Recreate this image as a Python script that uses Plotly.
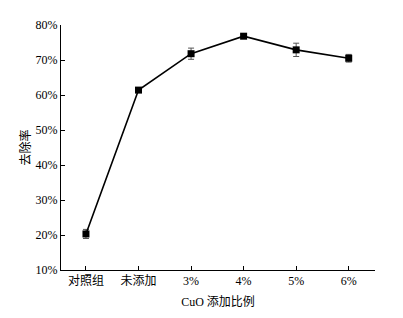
import plotly.graph_objects as go

categories = ["对照组", "未添加", "3%", "4%", "5%", "6%"]
removal = [20.3, 61.4, 71.8, 76.8, 72.9, 70.5]
errors = [1.3, 0.3, 1.6, 0.5, 1.9, 1.1]
y_ticks = [10, 20, 30, 40, 50, 60, 70, 80]
y_tick_labels = [f"{v}%" for v in y_ticks]

xpos = list(range(len(categories)))
FONT = "Liberation Serif, Times New Roman, Noto Sans CJK SC, serif"

fig = go.Figure()
fig.add_trace(go.Scatter(
    x=xpos, y=removal, mode="lines+markers",
    line=dict(color="black", width=1.6),
    marker=dict(symbol="square", size=7, color="black"),
    error_y=dict(type="data", array=errors, visible=True,
                 color="#555555", thickness=1, width=3),
    showlegend=False,
))

fig.update_layout(
    width=395, height=310,
    margin=dict(l=53, r=28, t=10, b=48),
    paper_bgcolor="white", plot_bgcolor="white",
    font=dict(family=FONT, size=12, color="black"),
    xaxis=dict(
        range=[-0.475, 5.5], showgrid=False, zeroline=False,
        showline=True, linecolor="black", linewidth=1,
        tickvals=xpos + [5.5], ticktext=categories + [""],
        ticks="inside", ticklen=4, tickcolor="black",
        tickfont=dict(size=12, family=FONT),
        title=dict(text="CuO 添加比例", font=dict(size=12, family=FONT), standoff=10),
    ),
    yaxis=dict(
        range=[10, 80], showgrid=False, zeroline=False,
        showline=True, linecolor="black", linewidth=1,
        tickvals=y_ticks, ticktext=y_tick_labels,
        ticks="inside", ticklen=4, tickcolor="black",
        tickfont=dict(size=12, family=FONT),
        title=dict(text="去除率", font=dict(size=12, family=FONT), standoff=2),
    ),
)

fig.write_html("out.html")
